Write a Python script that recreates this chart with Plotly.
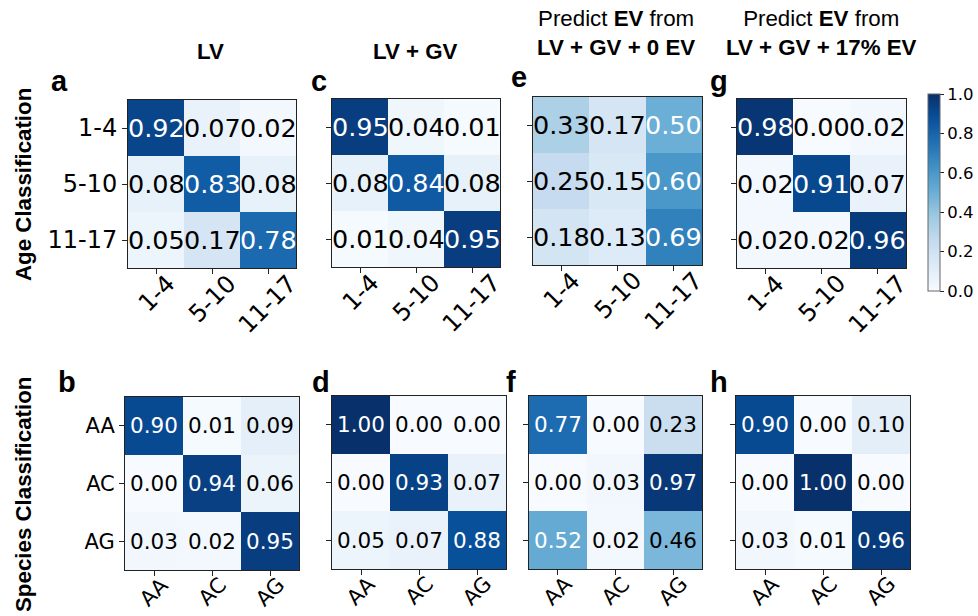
import plotly.graph_objects as go

# ---- data ----
age_labels = ["1-4", "5-10", "11-17"]
species_labels = ["AA", "AC", "AG"]

age_lv = [[0.92, 0.07, 0.02], [0.08, 0.83, 0.08], [0.05, 0.17, 0.78]]
age_lv_gv = [[0.95, 0.04, 0.01], [0.08, 0.84, 0.08], [0.01, 0.04, 0.95]]
age_ev_0 = [[0.33, 0.17, 0.50], [0.25, 0.15, 0.60], [0.18, 0.13, 0.69]]
age_ev_17 = [[0.98, 0.00, 0.02], [0.02, 0.91, 0.07], [0.02, 0.02, 0.96]]

sp_lv = [[0.90, 0.01, 0.09], [0.00, 0.94, 0.06], [0.03, 0.02, 0.95]]
sp_lv_gv = [[1.00, 0.00, 0.00], [0.00, 0.93, 0.07], [0.05, 0.07, 0.88]]
sp_ev_0 = [[0.77, 0.00, 0.23], [0.00, 0.03, 0.97], [0.52, 0.02, 0.46]]
sp_ev_17 = [[0.90, 0.00, 0.10], [0.00, 1.00, 0.00], [0.03, 0.01, 0.96]]

column_titles = [
    "<b>LV</b>",
    "<b>LV + GV</b>",
    "Predict <b>EV</b> from<br><b>LV + GV + 0 EV</b>",
    "Predict <b>EV</b> from<br><b>LV + GV + 17% EV</b>",
]
row_titles = ["Age Classification", "Species Classification"]
panel_letters = ["a", "c", "e", "g", "b", "d", "f", "h"]

# ---- layout geometry (pixels) ----
W, H = 978, 616
top_boxes = [(128, 296, 100, 268), (332, 500, 99, 267), (533, 702, 97, 265), (737, 906, 99, 268)]
bot_boxes = [(125, 299, 397, 570), (332, 506, 396, 569), (529, 702, 396, 569), (736, 910, 396, 569)]
letter_pos = [(59, 81), (319, 81), (519, 77), (719, 81), (67, 382), (321, 382), (511, 382), (719, 382)]
title_pos = [(210, 52), (415, 52), (616, 33), (821, 33)]

BLUES = [
    [0.000, "#f7fbff"], [0.125, "#deebf7"], [0.250, "#c6dbef"],
    [0.375, "#9ecae1"], [0.500, "#6baed6"], [0.625, "#4292c6"],
    [0.750, "#2171b5"], [0.875, "#08519c"], [1.000, "#08306b"],
]
TICK_FONT = "DejaVu Sans"
TITLE_FONT = "Liberation Sans, Arial, sans-serif"

fig = go.Figure()
annotations = []
layout_axes = {}

# (matrix, labels, box, show y labels, cell font, tick font, label offset)
panels = [
    (age_lv, age_labels, top_boxes[0], True, 25.5, 24, 1),
    (age_lv_gv, age_labels, top_boxes[1], False, 25.5, 24, 1),
    (age_ev_0, age_labels, top_boxes[2], False, 25.5, 24, 1),
    (age_ev_17, age_labels, top_boxes[3], False, 25.5, 24, 1),
    (sp_lv, species_labels, bot_boxes[0], True, 21.5, 21, 0),
    (sp_lv_gv, species_labels, bot_boxes[1], False, 21.5, 21, 0),
    (sp_ev_0, species_labels, bot_boxes[2], False, 21.5, 21, 0),
    (sp_ev_17, species_labels, bot_boxes[3], False, 21.5, 21, 0),
]

for k, (z, labels, box, show_y, cell_fs, tick_fs, lab_shift) in enumerate(panels):
    n = "" if k == 0 else str(k + 1)
    x0, x1, y0, y1 = box
    idx = list(range(len(labels)))
    fig.add_trace(go.Heatmap(
        z=z, x=idx, y=idx, coloraxis="coloraxis",
        xaxis="x" + n, yaxis="y" + n, hoverinfo="skip",
    ))
    common = dict(
        showline=True, mirror=True, linecolor="#222222", linewidth=1,
        ticks="outside", ticklen=5, tickwidth=1, tickcolor="#222222",
        showgrid=False, zeroline=False, tickmode="array", tickvals=idx,
    )
    layout_axes["xaxis" + n] = dict(
        common, domain=[x0 / W, x1 / W], anchor="y" + n,
        range=[-0.5, len(labels) - 0.5], showticklabels=False,
    )
    layout_axes["yaxis" + n] = dict(
        common, domain=[1 - y1 / H, 1 - y0 / H], anchor="x" + n,
        range=[len(labels) - 0.5, -0.5], ticktext=labels,
        showticklabels=show_y,
        tickfont=dict(family=TICK_FONT, size=tick_fs, color="black"),
    )
    # cell values, white on dark cells
    zmax = max(max(r) for r in z)
    for i, row in enumerate(z):
        for j, v in enumerate(row):
            annotations.append(dict(
                x=j, y=i, xref="x" + n, yref="y" + n, text=f"{v:.2f}",
                showarrow=False,
                font=dict(family=TICK_FONT, size=cell_fs,
                          color="white" if v > zmax / 2 else "black"),
            ))
    # rotated category labels under each panel
    for j, lab in enumerate(labels):
        annotations.append(dict(
            x=j, xref="x" + n, y=0, yref="y" + n + " domain",
            text=lab, textangle=-45, xanchor="center", yanchor="top",
            yshift=lab_shift, showarrow=False,
            font=dict(family=TICK_FONT, size=tick_fs, color="black"),
        ))

# column titles
for t, (cx, cy) in zip(column_titles, title_pos):
    annotations.append(dict(
        x=cx / W, y=1 - cy / H, xref="paper", yref="paper", text=t,
        showarrow=False, xanchor="center", yanchor="middle",
        font=dict(family=TITLE_FONT, size=22.3, color="black"),
    ))

# panel letters
for letter, (cx, cy) in zip(panel_letters, letter_pos):
    annotations.append(dict(
        x=cx / W, y=1 - cy / H, xref="paper", yref="paper",
        text=f"<b>{letter}</b>", showarrow=False,
        xanchor="center", yanchor="middle",
        font=dict(family=TITLE_FONT, size=29, color="black"),
    ))

# row titles
for t, cy in zip(row_titles, [185, 495]):
    annotations.append(dict(
        x=23 / W, y=1 - cy / H, xref="paper", yref="paper",
        text=f"<b>{t}</b>", textangle=-90, showarrow=False,
        xanchor="center", yanchor="middle",
        font=dict(family=TITLE_FONT, size=22.3, color="black"),
    ))

fig.update_layout(
    width=W, height=H,
    margin=dict(l=0, r=0, t=0, b=0),
    paper_bgcolor="white", plot_bgcolor="white",
    showlegend=False,
    annotations=annotations,
    coloraxis=dict(
        colorscale=BLUES, cmin=0, cmax=1,
        colorbar=dict(
            x=928 / W, xanchor="left", xpad=0,
            y=1 - 94 / H, yanchor="top", ypad=0,
            lenmode="pixels", len=197,
            thickness=12, thicknessmode="pixels",
            outlinewidth=1, outlinecolor="#666666",
            ticks="outside", ticklen=4, tickcolor="#222222",
            tickvals=[0, 0.2, 0.4, 0.6, 0.8, 1.0],
            ticktext=["0.0", "0.2", "0.4", "0.6", "0.8", "1.0"],
            tickfont=dict(family=TICK_FONT, size=16.5, color="black"),
        ),
    ),
    **layout_axes,
)

fig.write_html("out.html")
